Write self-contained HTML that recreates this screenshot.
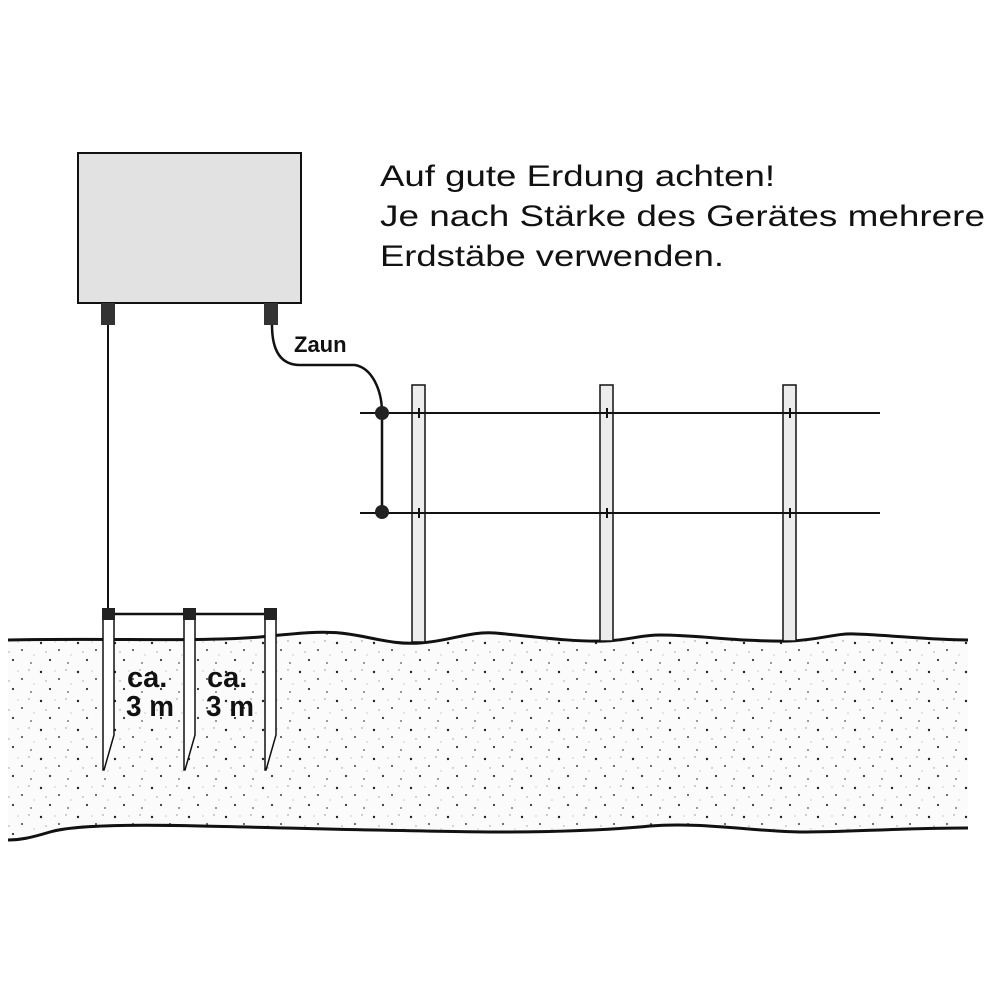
<!DOCTYPE html>
<html><head><meta charset="utf-8"><style>html,body{margin:0;padding:0;background:#fff}</style></head>
<body>
<svg width="1000" height="1000" viewBox="0 0 1000 1000" xmlns="http://www.w3.org/2000/svg">
<defs>
<pattern id="st" width="37" height="29" patternUnits="userSpaceOnUse">
<rect width="37" height="29" fill="#fbfbfb"/>
<circle cx="4" cy="5" r="1.2" fill="#222"/>
<circle cx="22" cy="12" r="1" fill="#444"/>
<circle cx="13" cy="22" r="1.1" fill="#333"/>
<circle cx="31" cy="25" r="0.9" fill="#555"/>
<circle cx="29" cy="3" r="0.7" fill="#888"/>
<circle cx="9" cy="14" r="0.7" fill="#999"/>
<circle cx="18" cy="4" r="0.6" fill="#aaa"/>
<circle cx="34" cy="17" r="0.6" fill="#aaa"/>
</pattern>
</defs>
<path d="M8,640 C100,638 200,642 260,637 C300,633 320,631 340,633 C370,636 390,645 420,643 C450,641 470,631 495,633 C530,636 570,642 605,641 C630,640 640,635 660,635 C700,635 740,642 790,641 C820,640 835,633 855,634 C890,635 930,640 968,640 L968,828 C900,828 850,832 800,832 C750,831 700,822 650,826 C600,831 550,832 500,832 C430,832 300,828 200,826 C120,824 70,826 50,832 C30,838 20,840 8,840 Z" fill="url(#st)"/>
<path d="M8,640 C100,638 200,642 260,637 C300,633 320,631 340,633 C370,636 390,645 420,643 C450,641 470,631 495,633 C530,636 570,642 605,641 C630,640 640,635 660,635 C700,635 740,642 790,641 C820,640 835,633 855,634 C890,635 930,640 968,640" fill="none" stroke="#111" stroke-width="3"/>
<path d="M968,828 C900,828 850,832 800,832 C750,831 700,822 650,826 C600,831 550,832 500,832 C430,832 300,828 200,826 C120,824 70,826 50,832 C30,838 20,840 8,840" fill="none" stroke="#111" stroke-width="3"/>
<rect x="78" y="153" width="223" height="150" fill="#e2e2e2" stroke="#111" stroke-width="2"/>
<rect x="101" y="303" width="14" height="22" fill="#333"/>
<rect x="264" y="303" width="14" height="22" fill="#333"/>
<line x1="108" y1="325" x2="108" y2="612" stroke="#111" stroke-width="2"/>
<line x1="108" y1="614" x2="270" y2="614" stroke="#111" stroke-width="2.5"/>
<g fill="#fff" stroke="#111" stroke-width="1.5">
<path d="M103,618 L114,618 L114,735 L104,770 L103,770 Z"/>
<path d="M184,618 L195,618 L195,735 L185,770 L184,770 Z"/>
<path d="M265,618 L276,618 L276,735 L266,770 L265,770 Z"/>
</g>
<rect x="102" y="608" width="13" height="12" fill="#222"/>
<rect x="183" y="608" width="13" height="12" fill="#222"/>
<rect x="264" y="608" width="13" height="12" fill="#222"/>
<g font-family="Liberation Sans, sans-serif" font-weight="bold" font-size="29" fill="#111">
<text x="127" y="687">ca.</text><text x="126" y="716" textLength="48" lengthAdjust="spacingAndGlyphs">3 m</text>
<text x="207" y="687">ca.</text><text x="206" y="716" textLength="48" lengthAdjust="spacingAndGlyphs">3 m</text>
</g>
<g fill="#ececec" stroke="#111" stroke-width="1.5">
<rect x="412" y="385" width="13" height="257"/>
<rect x="600" y="385" width="13" height="256"/>
<rect x="783" y="385" width="13" height="256"/>
</g>
<line x1="360" y1="413" x2="880" y2="413" stroke="#111" stroke-width="2"/>
<line x1="360" y1="513" x2="880" y2="513" stroke="#111" stroke-width="2"/>
<g stroke="#111" stroke-width="2">
<line x1="419" y1="408" x2="419" y2="418"/><line x1="607" y1="408" x2="607" y2="418"/><line x1="790" y1="408" x2="790" y2="418"/>
<line x1="419" y1="508" x2="419" y2="518"/><line x1="607" y1="508" x2="607" y2="518"/><line x1="790" y1="508" x2="790" y2="518"/>
</g>
<line x1="382" y1="413" x2="382" y2="513" stroke="#111" stroke-width="2.5"/>
<path d="M272,325 C272,350 280,365 300,365 L355,365 C372,368 382,390 382,413" fill="none" stroke="#111" stroke-width="2.5"/>
<circle cx="382" cy="413" r="7" fill="#222"/>
<circle cx="382" cy="512" r="7" fill="#222"/>
<text x="294" y="352" font-family="Liberation Sans, sans-serif" font-weight="bold" font-size="22" fill="#111">Zaun</text>
<g font-family="Liberation Sans, sans-serif" font-size="30" fill="#111">
<text x="380" y="186" textLength="395" lengthAdjust="spacingAndGlyphs">Auf gute Erdung achten!</text>
<text x="380" y="226" textLength="605" lengthAdjust="spacingAndGlyphs">Je nach Stärke des Gerätes mehrere</text>
<text x="380" y="266" textLength="344" lengthAdjust="spacingAndGlyphs">Erdstäbe verwenden.</text>
</g>
</svg>
</body></html>
